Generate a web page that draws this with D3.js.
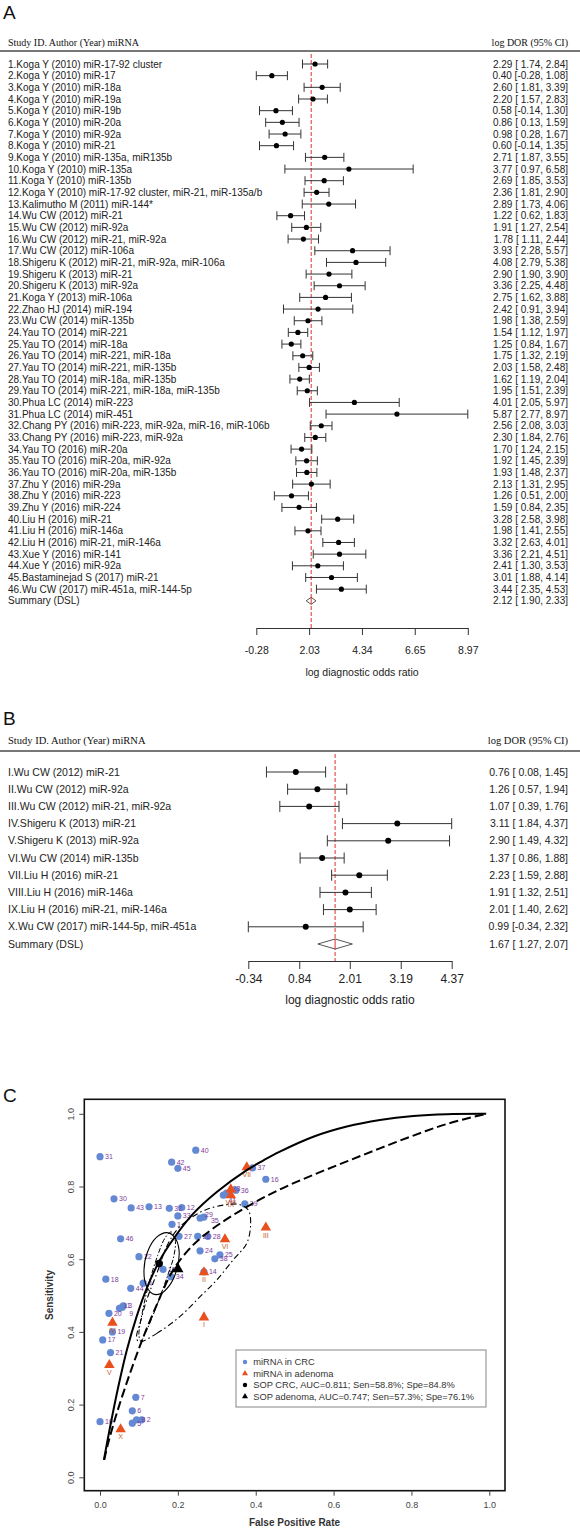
<!DOCTYPE html>
<html><head><meta charset="utf-8">
<script src="https://cdn.jsdelivr.net/npm/d3@7/dist/d3.min.js"></script>
<style>body{margin:0;background:#fff}svg{display:block}</style>
</head><body>
<svg id="c" width="580" height="1530"></svg>
<script>
// ---------- Panel A data ----------
const studiesA = ["1.Koga Y (2010) miR-17-92 cluster","2.Koga Y (2010) miR-17","3.Koga Y (2010) miR-18a","4.Koga Y (2010) miR-19a","5.Koga Y (2010) miR-19b","6.Koga Y (2010) miR-20a","7.Koga Y (2010) miR-92a","8.Koga Y (2010) miR-21","9.Koga Y (2010) miR-135a, miR135b","10.Koga Y (2010) miR-135a","11.Koga Y (2010) miR-135b","12.Koga Y (2010) miR-17-92 cluster, miR-21, miR-135a/b","13.Kalimutho M (2011) miR-144*","14.Wu CW (2012) miR-21","15.Wu CW (2012) miR-92a","16.Wu CW (2012) miR-21, miR-92a","17.Wu CW (2012) miR-106a","18.Shigeru K (2012) miR-21, miR-92a, miR-106a","19.Shigeru K (2013) miR-21","20.Shigeru K (2013) miR-92a","21.Koga Y (2013) miR-106a","22.Zhao HJ (2014) miR-194","23.Wu CW (2014) miR-135b","24.Yau TO (2014) miR-221","25.Yau TO (2014) miR-18a","26.Yau TO (2014) miR-221, miR-18a","27.Yau TO (2014) miR-221, miR-135b","28.Yau TO (2014) miR-18a, miR-135b","29.Yau TO (2014) miR-221, miR-18a, miR-135b","30.Phua LC (2014) miR-223","31.Phua LC (2014) miR-451","32.Chang PY (2016) miR-223, miR-92a, miR-16, miR-106b","33.Chang PY (2016) miR-223, miR-92a","34.Yau TO (2016) miR-20a","35.Yau TO (2016) miR-20a, miR-92a","36.Yau TO (2016) miR-20a, miR-135b","37.Zhu Y (2016) miR-29a","38.Zhu Y (2016) miR-223","39.Zhu Y (2016) miR-224","40.Liu H (2016) miR-21","41.Liu H (2016) miR-146a","42.Liu H (2016) miR-21, miR-146a","43.Xue Y (2016) miR-141","44.Xue Y (2016) miR-92a","45.Bastaminejad S (2017) miR-21","46.Wu CW (2017) miR-451a, miR-144-5p"];
const logDorA = [2.29,0.40,2.60,2.20,0.58,0.86,0.98,0.60,2.71,3.77,2.69,2.36,2.89,1.22,1.91,1.78,3.93,4.08,2.90,3.36,2.75,2.42,1.98,1.54,1.25,1.75,2.03,1.62,1.95,4.01,5.87,2.56,2.30,1.70,1.92,1.93,2.13,1.26,1.59,3.28,1.98,3.32,3.36,2.41,3.01,3.44];
const ciLowA = [1.74,-0.28,1.81,1.57,-0.14,0.13,0.28,-0.14,1.87,0.97,1.85,1.81,1.73,0.62,1.27,1.11,2.28,2.79,1.90,2.25,1.62,0.91,1.38,1.12,0.84,1.32,1.58,1.19,1.51,2.05,2.77,2.08,1.84,1.24,1.45,1.48,1.31,0.51,0.84,2.58,1.41,2.63,2.21,1.30,1.88,2.35];
const ciHighA = [2.84,1.08,3.39,2.83,1.30,1.59,1.67,1.35,3.55,6.58,3.53,2.90,4.06,1.83,2.54,2.44,5.57,5.38,3.90,4.48,3.88,3.94,2.59,1.97,1.67,2.19,2.48,2.04,2.39,5.97,8.97,3.03,2.76,2.15,2.39,2.37,2.95,2.00,2.35,3.98,2.55,4.01,4.51,3.53,4.14,4.53];
const summaryA = [2.12,1.90,2.33];
const ticksA = [-0.28,2.03,4.34,6.65,8.97];

// ---------- Panel B data ----------
const studiesB = ["I.Wu CW (2012) miR-21","II.Wu CW (2012) miR-92a","III.Wu CW (2012) miR-21, miR-92a","IV.Shigeru K (2013) miR-21","V.Shigeru K (2013) miR-92a","VI.Wu CW (2014) miR-135b","VII.Liu H (2016) miR-21","VIII.Liu H (2016) miR-146a","IX.Liu H (2016) miR-21, miR-146a","X.Wu CW (2017) miR-144-5p, miR-451a"];
const logDorB = [0.76,1.26,1.07,3.11,2.90,1.37,2.23,1.91,2.01,0.99];
const ciLowB = [0.08,0.57,0.39,1.84,1.49,0.86,1.59,1.32,1.40,-0.34];
const ciHighB = [1.45,1.94,1.76,4.37,4.32,1.88,2.88,2.51,2.62,2.32];
const summaryB = [1.67,1.27,2.07];
const ticksB = [-0.34,0.84,2.01,3.19,4.37];

// ---------- Panel C data ----------
const crcIds = d3.range(1,47).map(String);
const crcFpr = [0.185,0.107,0.060,0.111,0.083,0.083,0.092,0.094,0.057,0.000,0.050,0.210,0.126,0.267,0.162,0.426,0.007,0.015,0.032,0.023,0.027,0.100,0.325,0.257,0.308,0.251,0.203,0.277,0.257,0.036,0.000,0.178,0.200,0.182,0.267,0.349,0.392,0.295,0.372,0.246,0.317,0.184,0.080,0.079,0.200,0.053];
const crcSen = [0.696,0.158,0.472,0.534,0.149,0.183,0.220,0.158,0.468,0.153,0.465,0.742,0.744,0.565,0.572,0.820,0.378,0.545,0.400,0.451,0.343,0.607,0.782,0.623,0.612,0.663,0.663,0.663,0.713,0.766,0.882,0.740,0.719,0.552,0.716,0.790,0.851,0.601,0.752,0.900,0.776,0.867,0.741,0.520,0.850,0.656];
const adenomaIds = ["I","II","III","IV","V","VI","VII","VIII","IX","X"];
const adenomaFpr = [0.267,0.267,0.426,0.032,0.024,0.321,0.377,0.336,0.336,0.053];
const adenomaSen = [0.440,0.564,0.687,0.425,0.309,0.655,0.853,0.776,0.792,0.132];
const sopCrc = [0.152,0.588];
const sopAdenoma = [0.200,0.573];
const crcSroc = [[0.010,0.048],[0.026,0.139],[0.047,0.249],[0.069,0.350],[0.094,0.442],[0.120,0.520],[0.154,0.598],[0.188,0.655],[0.240,0.726],[0.300,0.785],[0.377,0.845],[0.420,0.872],[0.462,0.896],[0.548,0.937],[0.634,0.965],[0.719,0.983],[0.805,0.994],[0.891,0.999],[0.992,1.000]];
const adenomaSroc = [[0.011,0.048],[0.020,0.090],[0.043,0.176],[0.077,0.286],[0.111,0.385],[0.146,0.475],[0.175,0.545],[0.197,0.585],[0.240,0.640],[0.291,0.685],[0.377,0.744],[0.462,0.792],[0.548,0.832],[0.634,0.869],[0.719,0.905],[0.805,0.940],[0.891,0.972],[0.992,1.000]];
const crcConfRegion = [[0.172,0.673],[0.192,0.660],[0.203,0.625],[0.198,0.575],[0.180,0.530],[0.155,0.505],[0.135,0.505],[0.118,0.530],[0.113,0.570],[0.122,0.620],[0.145,0.660]];
const crcPredRegion = [[0.183,0.675],[0.193,0.655],[0.190,0.610],[0.172,0.550],[0.145,0.470],[0.118,0.400],[0.105,0.375],[0.100,0.390],[0.108,0.450],[0.125,0.530],[0.148,0.610],[0.168,0.660]];
const adenomaConfRegion = [[0.100,0.372],[0.146,0.396],[0.205,0.442],[0.257,0.497],[0.300,0.543],[0.342,0.598],[0.377,0.644],[0.387,0.699],[0.381,0.735],[0.360,0.750],[0.325,0.750],[0.274,0.737],[0.231,0.712],[0.197,0.680],[0.171,0.634],[0.146,0.561],[0.120,0.488],[0.103,0.424],[0.094,0.387]];
const legendLabels = ["miRNA in CRC","miRNA in adenoma","SOP CRC, AUC=0.811; Sen=58.8%; Spe=84.8%","SOP adenoma, AUC=0.747; Sen=57.3%; Spe=76.1%"];

// ---------- drawing ----------
const svg = d3.select("#c");
const SANS = "'Liberation Sans', Arial, sans-serif";
const SERIF = "'Liberation Serif', 'Times New Roman', serif";
const f2 = v => v.toFixed(2);
const ciText = (e,l,h) => `${f2(e)} [${l>=0?" ":""}${f2(l)}, ${f2(h)}]`;

function forest(o){
  const g = svg.append("g");
  const n = o.labels.length;
  const x = d3.scaleLinear().domain(o.domain).range(o.range);
  const y = d3.scaleLinear().domain([0, n]).range([o.row0, o.row0 + n*o.step]);
  g.append("text").attr("x",3).attr("y",o.panelY).attr("font-family",SANS).attr("font-size",19).attr("fill","#111").text(o.panel);
  g.append("text").attr("x",8).attr("y",o.headY).attr("font-family",SERIF).attr("font-size",o.headFont).attr("fill","#111").text("Study ID. Author (Year) miRNA");
  g.append("text").attr("x",568).attr("y",o.headY).attr("text-anchor","end").attr("font-family",SERIF).attr("font-size",o.headFont).attr("fill","#111").text("log DOR (95% CI)");
  g.append("line").attr("x1",0).attr("x2",580).attr("y1",o.lineY).attr("y2",o.lineY).attr("stroke","#777").attr("stroke-width",2);
  g.append("line").attr("x1",x(o.summary[0])).attr("x2",x(o.summary[0])).attr("y1",o.lineY+3).attr("y2",o.axisY)
    .attr("stroke","#e0302a").attr("stroke-width",1).attr("stroke-dasharray","4,2");
  const rows = g.selectAll("g.row").data(o.labels.map((d,i)=>({lab:d,e:o.est[i],l:o.lo[i],h:o.hi[i],i}))).join("g");
  rows.append("text").attr("x",8).attr("y",d=>y(d.i)).attr("dy","0.35em").attr("font-family",SANS).attr("font-size",o.font).attr("fill","#222").text(d=>d.lab);
  rows.append("line").attr("x1",d=>x(d.l)).attr("x2",d=>x(d.h)).attr("y1",d=>y(d.i)).attr("y2",d=>y(d.i)).attr("stroke","#333").attr("stroke-width",1);
  rows.append("line").attr("x1",d=>x(d.l)).attr("x2",d=>x(d.l)).attr("y1",d=>y(d.i)-o.cap).attr("y2",d=>y(d.i)+o.cap).attr("stroke","#333");
  rows.append("line").attr("x1",d=>x(d.h)).attr("x2",d=>x(d.h)).attr("y1",d=>y(d.i)-o.cap).attr("y2",d=>y(d.i)+o.cap).attr("stroke","#333");
  rows.append("circle").attr("cx",d=>x(d.e)).attr("cy",d=>y(d.i)).attr("r",o.r).attr("fill","#000");
  rows.append("text").attr("x",568).attr("y",d=>y(d.i)).attr("dy","0.35em").attr("text-anchor","end").attr("font-family",SANS).attr("font-size",o.font).attr("fill","#222").text(d=>ciText(d.e,d.l,d.h));
  const ys = y(n);
  g.append("text").attr("x",8).attr("y",ys).attr("dy","0.35em").attr("font-family",SANS).attr("font-size",o.font).attr("fill","#222").text("Summary (DSL)");
  const [se,sl,sh] = o.summary;
  g.append("path").attr("d",`M${x(sl)},${ys}L${x(se)},${ys-o.dia}L${x(sh)},${ys}L${x(se)},${ys+o.dia}Z`).attr("fill","#fff").attr("stroke","#555").attr("stroke-width",1);
  g.append("line").attr("x1",x(se)).attr("x2",x(se)).attr("y1",ys-o.dia).attr("y2",ys+o.dia).attr("stroke","#e0302a").attr("stroke-width",1);
  g.append("text").attr("x",568).attr("y",ys).attr("dy","0.35em").attr("text-anchor","end").attr("font-family",SANS).attr("font-size",o.font).attr("fill","#222").text(ciText(se,sl,sh));
  const ax = g.append("g").attr("transform",`translate(0,${o.axisY})`)
    .call(d3.axisBottom(x).tickValues(o.ticks).tickFormat(f2).tickSize(o.tick).tickSizeOuter(0).tickPadding(o.tickPad));
  ax.select(".domain").attr("stroke","#333");
  ax.selectAll(".tick line").attr("stroke","#333");
  ax.selectAll(".tick text").attr("font-family",SANS).attr("font-size",o.axisFont).attr("fill","#222");
  g.append("text").attr("x",(o.range[0]+o.range[1])/2).attr("y",o.titleY).attr("text-anchor","middle").attr("font-family",SANS).attr("font-size",o.axisFont).attr("fill","#222").text("log diagnostic odds ratio");
}

forest({panel:"A",panelY:19,labels:studiesA,est:logDorA,lo:ciLowA,hi:ciHighA,summary:summaryA,ticks:ticksA,
  domain:[-0.28,8.97],range:[256.3,467.8],row0:64,step:11.67,headY:46,headFont:10,lineY:51,axisY:628,tick:7,tickPad:12,
  titleY:676,font:10,axisFont:10.5,r:2.6,cap:4.5,dia:3.5});
forest({panel:"B",panelY:725,labels:studiesB,est:logDorB,lo:ciLowB,hi:ciHighB,summary:summaryB,ticks:ticksB,
  domain:[-0.34,4.37],range:[248.3,451.7],row0:772,step:17.2,headY:744,headFont:10.5,lineY:751,axisY:961,tick:8,tickPad:5,
  titleY:1004,font:10.5,axisFont:12,r:3,cap:5.5,dia:5});

// ---------- Panel C ----------
(function(){
  const g = svg.append("g");
  const x = d3.scaleLinear().domain([0,1]).range([100,489.3]);
  const y = d3.scaleLinear().domain([0,1]).range([1477.3,1113.8]);
  const L=84.3,R=505,T=1099.3,B=1490.7;
  g.append("text").attr("x",3).attr("y",1102).attr("font-family",SANS).attr("font-size",19).attr("fill","#111").text("C");
  g.append("rect").attr("x",L).attr("y",T).attr("width",R-L).attr("height",B-T).attr("fill","none").attr("stroke","#111").attr("stroke-width",1.6);
  const xa = g.append("g").attr("transform",`translate(0,${B})`).call(d3.axisBottom(x).tickValues([0,0.2,0.4,0.6,0.8,1]).tickFormat(v=>v.toFixed(1)).tickSize(5).tickPadding(6));
  xa.select(".domain").remove();
  xa.selectAll(".tick text").attr("font-family",SANS).attr("font-size",9).attr("fill","#444");
  xa.selectAll(".tick line").attr("stroke","#444");
  const ya = g.append("g").attr("transform",`translate(${L},0)`).call(d3.axisLeft(y).tickValues([0,0.2,0.4,0.6,0.8,1]).tickFormat(v=>v.toFixed(1)).tickSize(5));
  ya.select(".domain").remove();
  ya.selectAll(".tick line").attr("stroke","#444");
  ya.selectAll(".tick text").attr("transform","rotate(-90)").attr("x",0).attr("y",-10).attr("dy",0).attr("text-anchor","middle").attr("font-family",SANS).attr("font-size",9).attr("fill","#444");
  g.append("text").attr("x",294.5).attr("y",1526).attr("text-anchor","middle").attr("font-family",SANS).attr("font-weight","bold").attr("font-size",10).attr("fill","#333").text("False Positive Rate");
  g.append("text").attr("transform",`translate(53,${(T+B)/2}) rotate(-90)`).attr("text-anchor","middle").attr("font-family",SANS).attr("font-weight","bold").attr("font-size",10).attr("fill","#333").text("Sensitivity");

  const blue="#6389d4", red="#e8501e", purple="#7d3c9c", brown="#c4602c";
  // small label nudges to reduce collisions of overlapping points
  const nudge = {"9":[2,6],"11":[-1,-3],"29":[0,-4],"35":[2,4],"23":[1,-4],"41":[0,5]};
  const adNudge = {"IX":[0,8]};
  const crc = crcIds.map((id,i)=>({id,fx:crcFpr[i],se:crcSen[i]}));
  g.selectAll("circle.crc").data(crc).join("circle").attr("cx",d=>x(d.fx)).attr("cy",d=>y(d.se)).attr("r",3.6).attr("fill",blue);
  g.selectAll("text.crc").data(crc).join("text")
    .attr("x",d=>x(d.fx)+5+(nudge[d.id]?nudge[d.id][0]:0)).attr("y",d=>y(d.se)+(nudge[d.id]?nudge[d.id][1]:0))
    .attr("dy","0.35em").attr("font-family",SANS).attr("font-size",7).attr("fill",purple).text(d=>d.id);
  const ad = adenomaIds.map((id,i)=>({id,fx:adenomaFpr[i],se:adenomaSen[i]}));
  const tri = d3.symbol(d3.symbolTriangle).size(48);
  g.selectAll("path.ad").data(ad).join("path").attr("transform",d=>`translate(${x(d.fx)},${y(d.se)})`).attr("d",tri).attr("fill",red);
  g.selectAll("text.ad").data(ad).join("text")
    .attr("x",d=>x(d.fx)+(adNudge[d.id]?adNudge[d.id][0]:0)).attr("y",d=>y(d.se)+10+(adNudge[d.id]?adNudge[d.id][1]:0))
    .attr("text-anchor","middle").attr("font-family",SANS).attr("font-size",7).attr("fill",brown).text(d=>d.id);
  const line = d3.line().x(d=>x(d[0])).y(d=>y(d[1])).curve(d3.curveCatmullRom);
  const closed = d3.line().x(d=>x(d[0])).y(d=>y(d[1])).curve(d3.curveCatmullRomClosed);
  g.append("path").attr("d",line(crcSroc)).attr("fill","none").attr("stroke","#000").attr("stroke-width",2);
  g.append("path").attr("d",line(adenomaSroc)).attr("fill","none").attr("stroke","#000").attr("stroke-width",2).attr("stroke-dasharray","9,4");
  g.append("path").attr("d",closed(crcConfRegion)).attr("fill","none").attr("stroke","#000").attr("stroke-width",1.1);
  g.append("path").attr("d",closed(crcPredRegion)).attr("fill","none").attr("stroke","#000").attr("stroke-width",1).attr("stroke-dasharray","5,2,1.5,2");
  g.append("path").attr("d",closed(adenomaConfRegion)).attr("fill","none").attr("stroke","#000").attr("stroke-width",1.1).attr("stroke-dasharray","6,3,1.5,3");
  g.append("circle").attr("cx",x(sopCrc[0])).attr("cy",y(sopCrc[1])).attr("r",3.8).attr("fill","#000");
  g.append("path").attr("transform",`translate(${x(sopAdenoma[0])},${y(sopAdenoma[1])})`).attr("d",d3.symbol(d3.symbolTriangle).size(55)).attr("fill","#000");
  const lg = g.append("g");
  lg.append("rect").attr("x",236).attr("y",1350).attr("width",250).attr("height",57).attr("fill","#fff").attr("stroke","#999").attr("stroke-width",1.2);
  const ly = d3.scalePoint().domain(legendLabels).range([1362,1396.5]);
  lg.selectAll("text").data(legendLabels).join("text").attr("x",253.3).attr("y",d=>ly(d)).attr("dy","0.35em").attr("font-family",SANS).attr("font-size",9.3).attr("fill","#333").text(d=>d);
  lg.append("circle").attr("cx",245).attr("cy",ly(legendLabels[0])).attr("r",2.2).attr("fill",blue);
  lg.append("path").attr("transform",`translate(245,${ly(legendLabels[1])})`).attr("d",d3.symbol(d3.symbolTriangle).size(16)).attr("fill",red);
  lg.append("circle").attr("cx",245).attr("cy",ly(legendLabels[2])).attr("r",2.2).attr("fill","#000");
  lg.append("path").attr("transform",`translate(245,${ly(legendLabels[3])})`).attr("d",d3.symbol(d3.symbolTriangle).size(16)).attr("fill","#000");
})();
</script>
</body></html>
